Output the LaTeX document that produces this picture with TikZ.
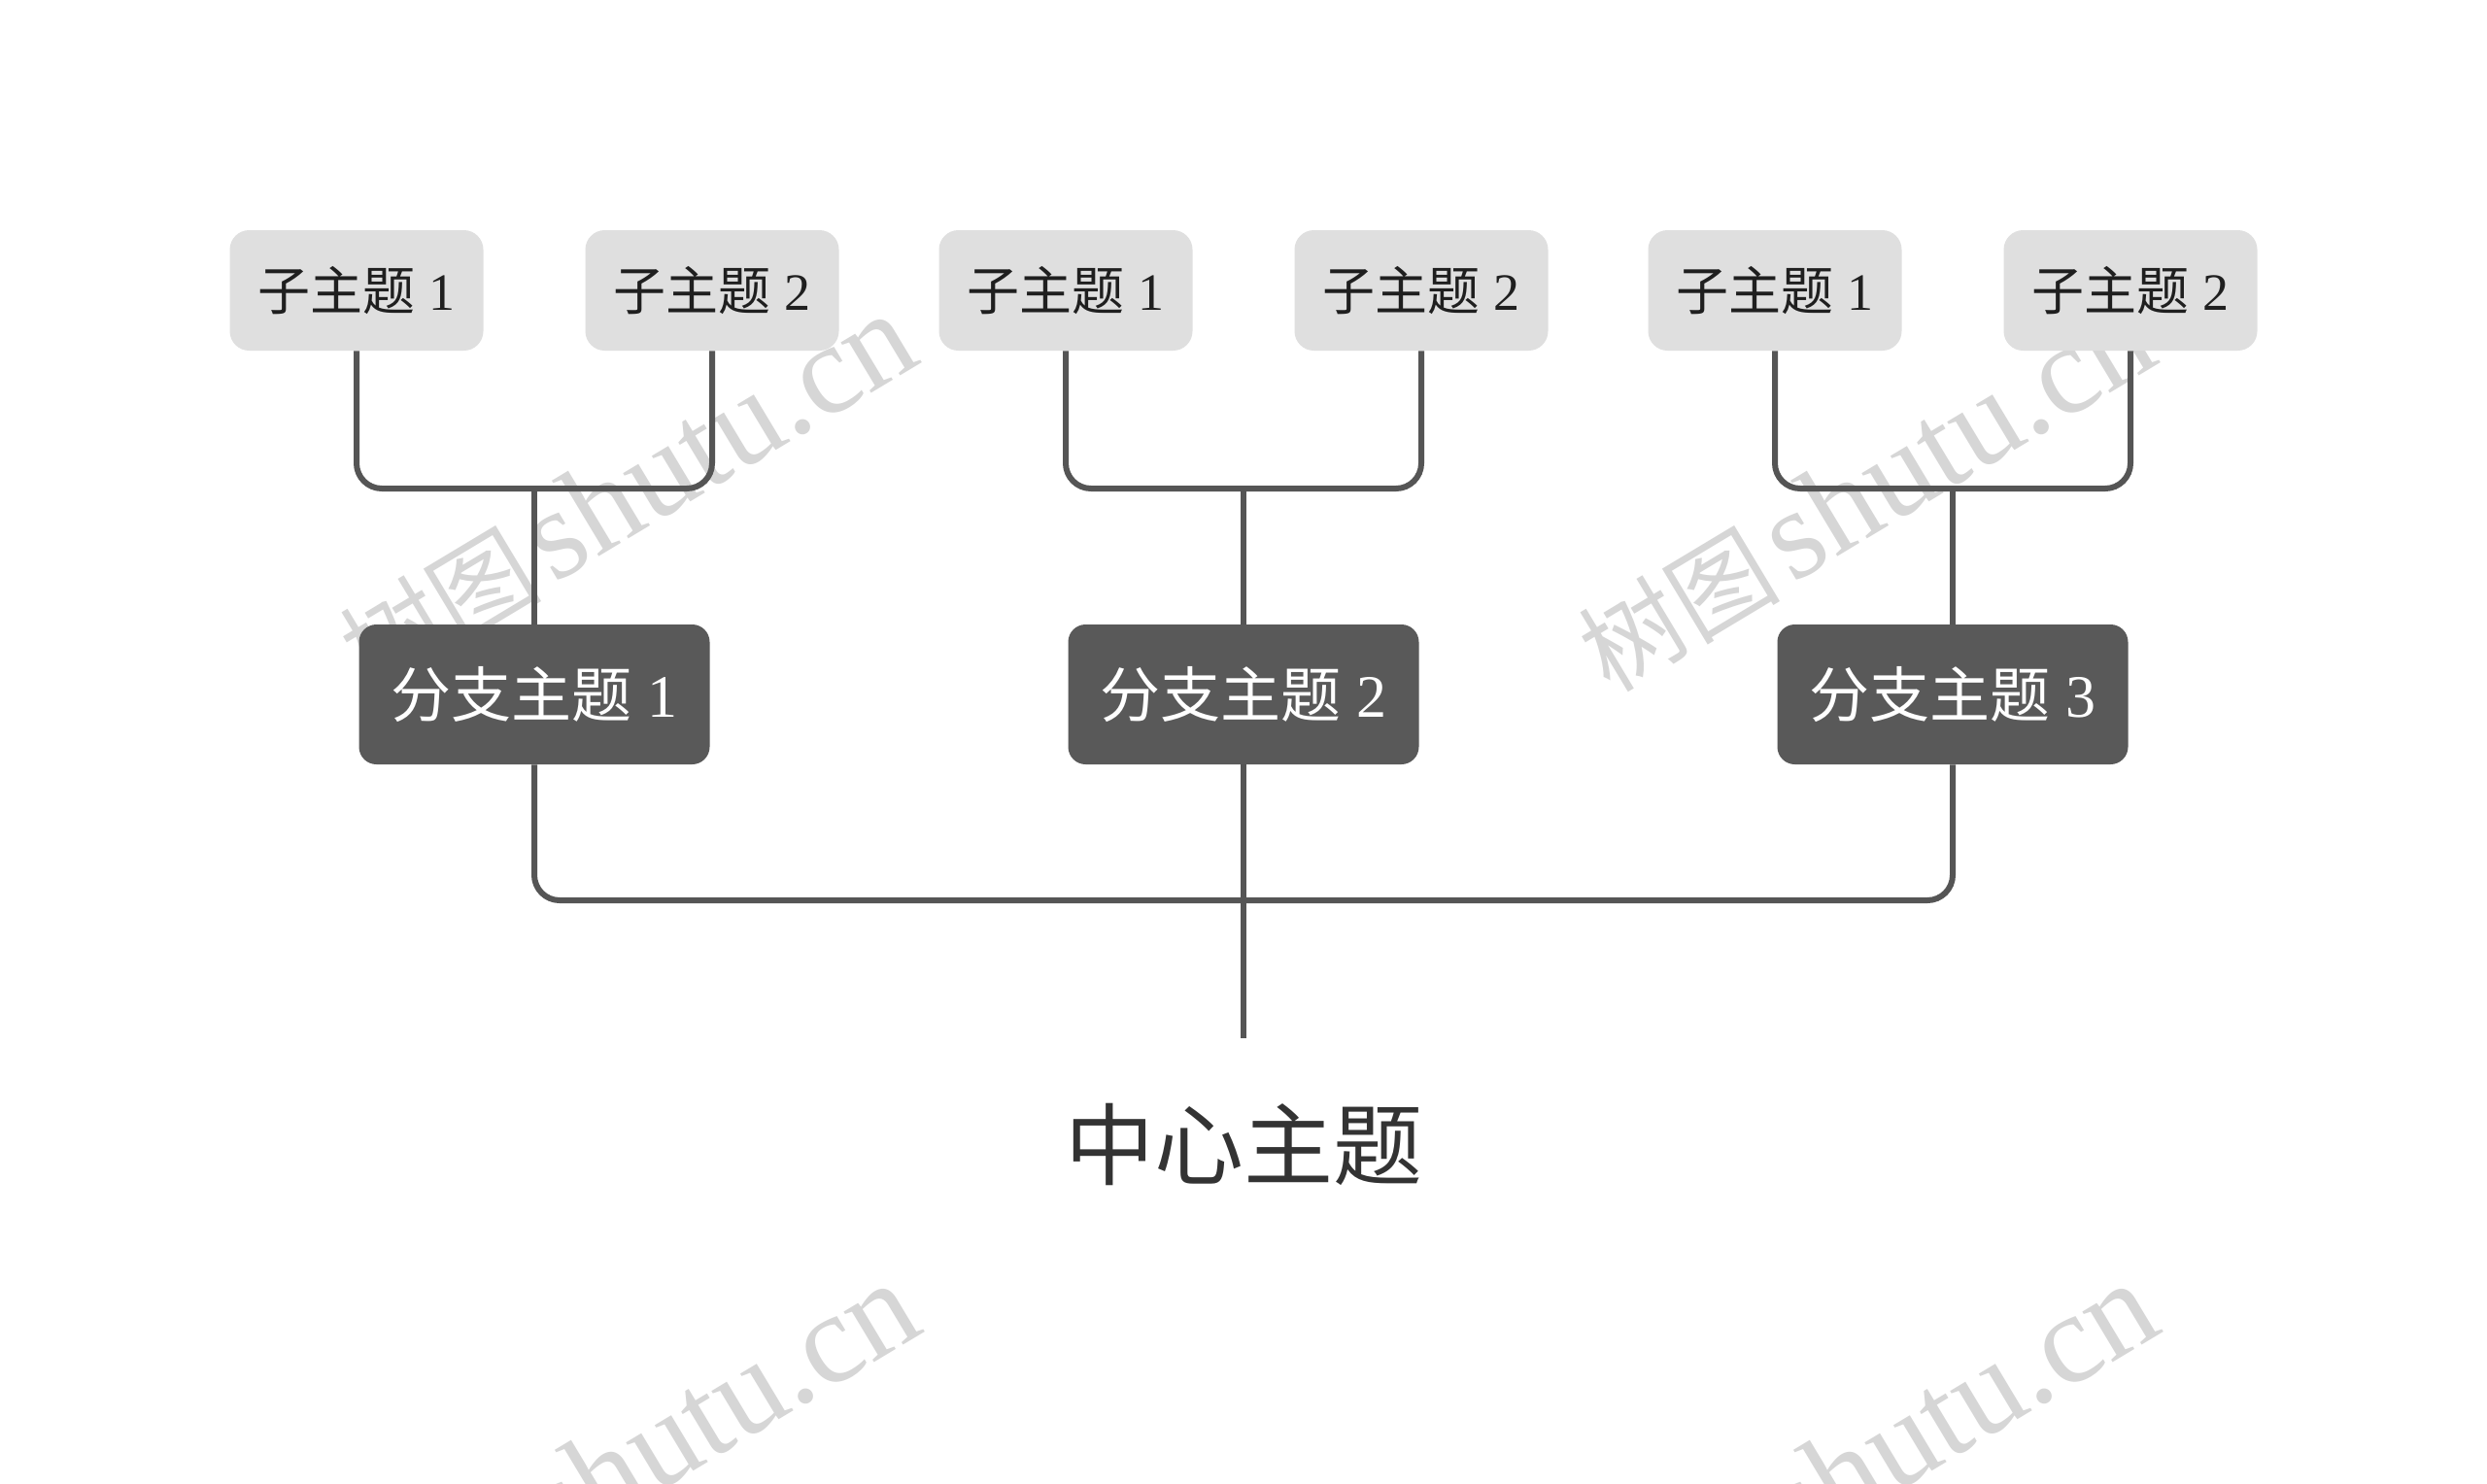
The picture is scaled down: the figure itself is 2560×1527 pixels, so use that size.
\documentclass[tikz,border=0pt]{standalone}
\usepackage{fontspec}
\setmainfont{Liberation Serif}
\newfontfamily\cjk{Noto Sans CJK SC}
\definecolor{linec}{HTML}{555555}
\definecolor{subfill}{HTML}{DFDFDF}
\definecolor{brfill}{HTML}{595959}
\definecolor{wmark}{HTML}{D6D6D6}
\definecolor{txt}{HTML}{333333}
\newcommand{\wmtext}{{\cjk\fontsize{52}{56}\selectfont 树图}\hspace{6pt}shutu.cn}
\tikzset{
  subtopic/.style={draw=none, fill=subfill, rounded corners=10pt, minimum width=130.5pt, minimum height=62pt, inner sep=0pt, font=\fontsize{27}{30}\selectfont, text=black!88},
  branch/.style={draw=none, fill=brfill, rounded corners=9pt, minimum width=180.5pt, minimum height=72pt, inner sep=0pt, font=\fontsize{31}{34}\selectfont, text=white},
  centre/.style={inner sep=0pt, font=\fontsize{46}{50}\selectfont, text=txt},
  conn/.style={draw=linec, line width=3pt, rounded corners=13pt},
  wm/.style={text=wmark, rotate=31, inner sep=0pt, font=\fontsize{66}{70}\selectfont}
}
\begin{document}
\begin{tikzpicture}[x=0.5pt,y=-0.5pt]
\useasboundingbox (0,0) rectangle (2560,1527);
\fill[white] (0,0) rectangle (2560,1527);
% watermarks
\begin{scope}
\clip (0,0) rectangle (2560,1527);
\node[wm] (w1) at (645,508) {\wmtext};
\node[wm] (w2) at (1920,508) {\wmtext};
\node[wm] (w3) at (648,1506) {\wmtext};
\node[wm] (w4) at (1923,1506) {\wmtext};
\end{scope}
% subtopics
\node[subtopic] (t1) at (367,299) {{\cjk 子主题} 1};
\node[subtopic] (t2) at (733,299) {{\cjk 子主题} 2};
\node[subtopic] (t3) at (1097,299) {{\cjk 子主题} 1};
\node[subtopic] (t4) at (1463,299) {{\cjk 子主题} 2};
\node[subtopic] (t5) at (1827,299) {{\cjk 子主题} 1};
\node[subtopic] (t6) at (2193,299) {{\cjk 子主题} 2};
% branches
\node[branch] (b1) at (550,715) {{\cjk 分支主题} 1};
\node[branch] (b2) at (1280,715) {{\cjk 分支主题} 2};
\node[branch] (b3) at (2010,715) {{\cjk 分支主题} 3};
% centre
\node[centre] (c) at (1280,1178) {\cjk 中心主题};
% junctions
\coordinate (j1) at (550,503);
\coordinate (j2) at (1280,503);
\coordinate (j3) at (2010,503);
\coordinate (k) at (1280,927);
\coordinate (e) at (1280,1069);
% connectors
\draw[conn] (t1.south) |- (j1) -| (t2.south);
\draw[conn] (t3.south) |- (j2) -| (t4.south);
\draw[conn] (t5.south) |- (j3) -| (t6.south);
\draw[conn] (j1) -- (b1.north);
\draw[conn] (j2) -- (b2.north);
\draw[conn] (j3) -- (b3.north);
\draw[conn] (b1.south) |- (k) -| (b3.south);
\draw[conn] (b2.south) -- (e);
\end{tikzpicture}
\end{document}
